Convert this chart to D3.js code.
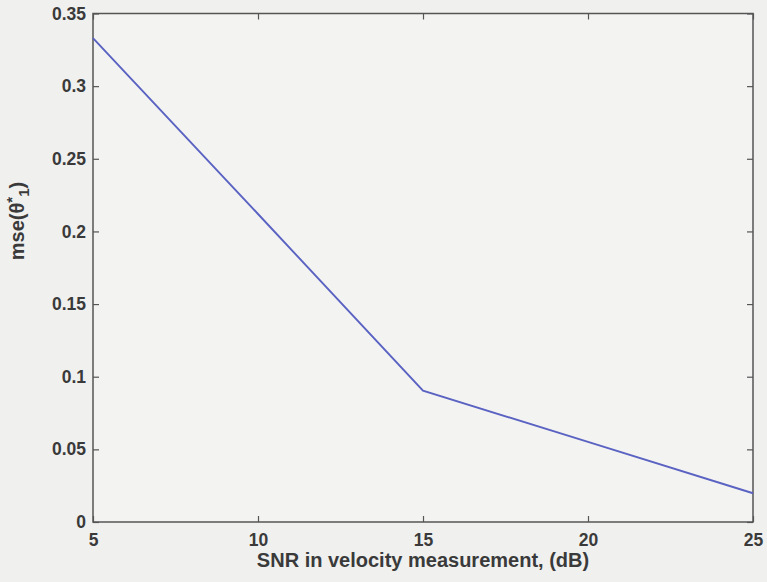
<!DOCTYPE html>
<html>
<head>
<meta charset="utf-8">
<script src="https://cdn.jsdelivr.net/npm/d3@7"></script>
<style>
  body { margin: 0; background: #f0f0ef; }
  svg text { font-family: "Liberation Sans", Arial, sans-serif; font-weight: bold; fill: #3a3a3a; }
</style>
</head>
<body>
<script>
var snr = [5, 10, 15, 20, 25];
var mse = [0.333, 0.212, 0.0904, 0.0551, 0.0198];
var xTicks = [5, 10, 15, 20, 25];
var yTicks = [0, 0.05, 0.1, 0.15, 0.2, 0.25, 0.3, 0.35];

var width = 767, height = 582;
var m = {left: 93, right: 14, top: 13.5, bottom: 60};

var svg = d3.select("body").append("svg").attr("width", width).attr("height", height);

var x = d3.scaleLinear().domain([5, 25]).range([m.left, width - m.right]);
var y = d3.scaleLinear().domain([0, 0.35]).range([height - m.bottom, m.top]);

var axisColor = "#555";

// box
svg.append("rect")
  .attr("x", x(5)).attr("y", y(0.35))
  .attr("width", x(25) - x(5)).attr("height", y(0) - y(0.35))
  .attr("fill", "#f3f3f2").attr("stroke", axisColor).attr("stroke-width", 1.5);

function styleAxis(g) {
  g.select(".domain").remove();
  g.selectAll(".tick line").attr("stroke", axisColor).attr("stroke-width", 1.2);
  g.selectAll(".tick text").style("font-size", "17.5px");
}

// bottom / top x axes (inward ticks)
svg.append("g").attr("transform", "translate(0," + y(0) + ")")
  .call(d3.axisBottom(x).tickValues(xTicks).tickFormat(d3.format("d")).tickSizeInner(-6).tickPadding(12))
  .call(styleAxis);
svg.append("g").attr("transform", "translate(0," + y(0.35) + ")")
  .call(d3.axisTop(x).tickValues(xTicks).tickSizeInner(-6).tickFormat(""))
  .call(styleAxis);

// left / right y axes
svg.append("g").attr("transform", "translate(" + x(5) + ",0)")
  .call(d3.axisLeft(y).tickValues(yTicks).tickFormat(function(d){ return d === 0 ? "0" : String(+d.toFixed(2)); }).tickSizeInner(-6).tickPadding(7))
  .call(styleAxis);
svg.append("g").attr("transform", "translate(" + x(25) + ",0)")
  .call(d3.axisRight(y).tickValues(yTicks).tickSizeInner(-6).tickFormat(""))
  .call(styleAxis);

// data line
var line = d3.line().x(function(d){ return x(d[0]); }).y(function(d){ return y(d[1]); });
svg.append("path")
  .datum(snr.map(function(s, i){ return [s, mse[i]]; }))
  .attr("d", line)
  .attr("fill", "none")
  .attr("stroke", "#5a62c2")
  .attr("stroke-width", 1.9);

// axis labels
svg.append("text")
  .attr("x", 423).attr("y", 567)
  .attr("text-anchor", "middle").style("font-size", "20px")
  .text("SNR in velocity measurement, (dB)");

var yl = svg.append("text")
  .attr("transform", "translate(24,221) rotate(-90)")
  .attr("text-anchor", "middle").style("font-size", "20px");
yl.append("tspan").text("mse(θ");
yl.append("tspan").attr("dy", -7).style("font-size", "15px").text("*");
yl.append("tspan").attr("dy", 12).style("font-size", "15px").text("1");
yl.append("tspan").attr("dy", -5).text(")");
</script>
</body>
</html>
